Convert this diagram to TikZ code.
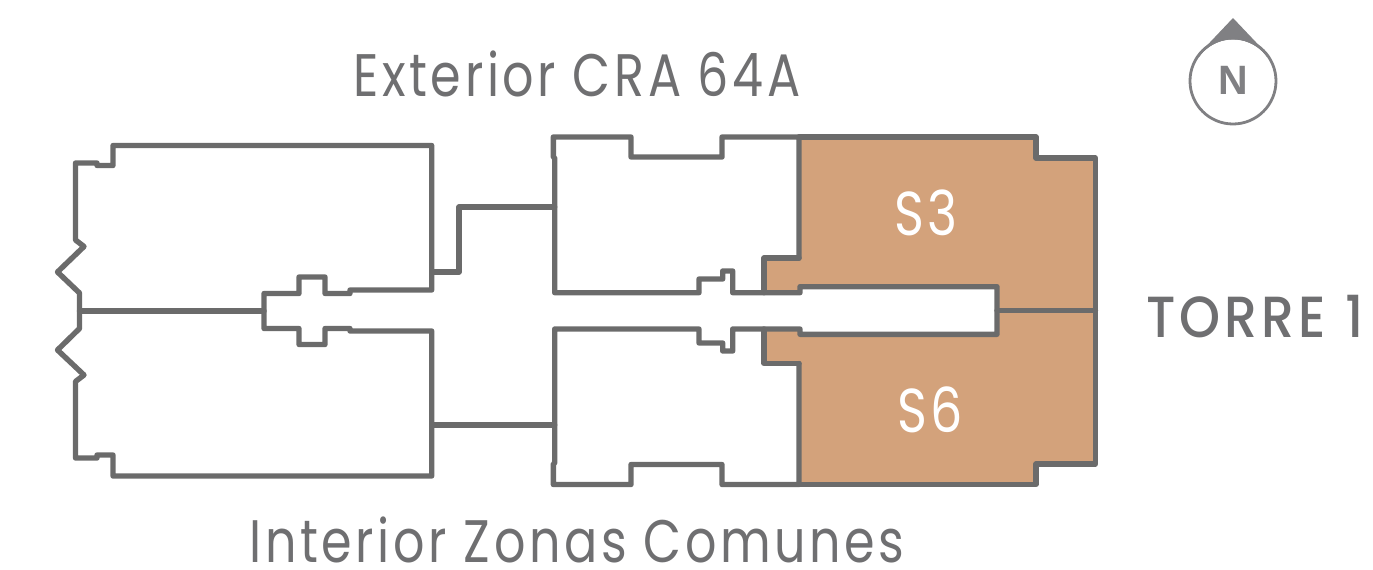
\documentclass[tikz,border=0pt]{standalone}
\usepackage{fontspec}
\setmainfont{Poppins}
\newfontfamily\labelfont[LetterSpace=6,FakeStretch=0.82]{Poppins}
\newfontfamily\towerfont[LetterSpace=7,FakeStretch=0.9,WordSpace=1.1]{Poppins Medium}
\newfontfamily\northfont{Liberation Sans Bold}
\definecolor{wallgray}{HTML}{6B6B6B}
\definecolor{unitfill}{HTML}{D3A27B}
\definecolor{compassgray}{HTML}{808083}
\definecolor{textgray}{HTML}{6F6F71}
\tikzset{
  wall/.style={draw=wallgray,line width=2.7pt,line join=round,line cap=round},
  unit/.style={fill=unitfill},
  caption/.style={text=textgray,font=\labelfont\fontsize{30}{32}\selectfont,inner sep=0pt,anchor=base},
  towerlabel/.style={text=textgray,font=\towerfont\fontsize{29}{32}\selectfont,inner sep=0pt,anchor=base},
  unitlabel/.style={text=white,font=\labelfont\fontsize{31}{32}\selectfont,inner sep=0pt,anchor=base}
}
\begin{document}
\begin{tikzpicture}[x=0.5pt,y=-0.5pt]
\useasboundingbox (0,0) rectangle (1373,569);
% orange units
\path[unit] (799,137) -- (1036,137) -- (1036,158) -- (1095.5,158) -- (1095.5,464) -- (1036,464) -- (1036,484.5) -- (799,484.5) -- (799,363.5) -- (764,363.5) -- (764,329) -- (800,329) -- (800,334.3) -- (997,334.3) -- (997,286.7) -- (800,286.7) -- (800,292.7) -- (764,292.7) -- (764,258) -- (799,258) -- cycle;
% left block
\draw[wall] (79.5,311) -- (79.5,293) -- (57.5,272) -- (84,246.5) -- (75.5,240) -- (75.5,163) -- (97,163) -- (97,165.5) -- (113,165.5) -- (113,145.5) -- (431.7,145.5) -- (431.7,290) -- (350,290) -- (350,293.5) -- (325,293.5) -- (325,277) -- (299,277) -- (299,293.5) -- (264,293.5) -- (264,328.5) -- (299,328.5) -- (299,344.5) -- (325,344.5) -- (325,328.5) -- (350,328.5) -- (350,331) -- (431.7,331) -- (431.7,476) -- (113,476) -- (113,455) -- (97,455) -- (97,458) -- (75.5,458) -- (75.5,381.5) -- (84,375) -- (57.5,350) -- (79.5,328.5) -- cycle;
\draw[wall] (79.5,311) -- (264,311);
% links
\draw[wall] (431.7,272) -- (459,272) -- (459,207) -- (554.7,207);
\draw[wall] (431.7,425) -- (554.7,425);
% right block
\draw[wall] (799,258) -- (799,137) -- (722,137) -- (722,157) -- (631,157) -- (631,137) -- (553.3,137) -- (553.3,157) -- (554.7,158) -- (554.7,292.7) -- (699,292.7) -- (699,279) -- (722.7,279) -- (722.7,271) -- (732.7,271) -- (732.7,292.7) -- (800,292.7) -- (800,286.7) -- (997,286.7) -- (997,334.3) -- (800,334.3) -- (800,329) -- (732.7,329) -- (732.7,351) -- (722.7,351) -- (722.7,343) -- (699,343) -- (699,329) -- (554.7,329) -- (554.7,463) -- (553.3,464) -- (553.3,484.5) -- (631,484.5) -- (631,464.5) -- (722,464.5) -- (722,484.5) -- (799,484.5) -- (799,363.5);
\draw[wall] (764,292.7) -- (764,258) -- (799,258);
\draw[wall] (764,329) -- (764,363.5) -- (799,363.5);
\draw[wall] (799,137) -- (1036,137) -- (1036,158) -- (1095.5,158) -- (1095.5,464) -- (1036,464) -- (1036,484.5) -- (799,484.5);
\draw[wall] (997,310.7) -- (1095.5,310.7);
% compass
\fill[compassgray] (1233,18) -- (1270,57) -- (1196,57) -- cycle;
\fill[white] (1233,81) circle[radius=41.5];
\draw[compassgray,line width=1.4pt] (1233,81) circle[radius=43];
\node[text=compassgray,font=\northfont\fontsize{20.5}{21}\selectfont,inner sep=0pt] (north) at (1233,80) {N};
% labels
\node[caption] (ext) at (577,96.7) {Exterior CRA 64A};
\node[caption] (int) at (577,562) {Interior Zonas Comunes};
\node[towerlabel] (torre) at (1255,337) {TORRE 1};
\node[unitlabel] (s3) at (926,235) {S3};
\node[unitlabel] (s6) at (930,432) {S6};
\end{tikzpicture}
\end{document}
